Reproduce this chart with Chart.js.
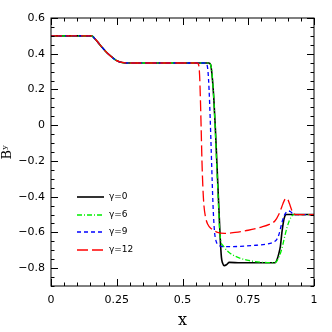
<!DOCTYPE html>
<html>
<head>
<meta charset="utf-8">
<script src="https://cdn.jsdelivr.net/npm/chart.js@4.4.1/dist/chart.umd.min.js"></script>
<style>
  html, body { margin: 0; padding: 0; background: #fff; }
  #wrap { width: 332px; height: 332px; }
</style>
</head>
<body>
<div id="wrap"><canvas id="byChart" width="332" height="332"></canvas></div>
<script>
// common part (0 .. 0.31) shared by every run
const commonX = [0, 0.155, 0.165, 0.178, 0.193, 0.21, 0.231, 0.248, 0.262, 0.28, 0.3];
const commonY = [0.5, 0.5, 0.487, 0.465, 0.438, 0.41, 0.382, 0.363, 0.354, 0.349, 0.348];

// gamma = 0
const g0X = [0.6, 0.607, 0.613, 0.619, 0.625, 0.631, 0.637, 0.643, 0.648, 0.652, 0.659, 0.668, 0.678, 0.72, 0.852, 0.86, 0.866, 0.872, 0.878, 0.884, 0.889, 0.895, 1];
const g0Y = [0.348, 0.34, 0.27, 0.15, -0.02, -0.22, -0.42, -0.62, -0.74, -0.77, -0.786, -0.78, -0.768, -0.77, -0.77, -0.75, -0.72, -0.68, -0.6, -0.54, -0.51, -0.5, -0.5];

// gamma = 6
const g6X = [0.6, 0.605, 0.61, 0.615, 0.62, 0.625, 0.63, 0.636, 0.641, 0.646, 0.655, 0.668, 0.682, 0.7, 0.72, 0.745, 0.77, 0.8, 0.848, 0.858, 0.866, 0.874, 0.882, 0.89, 0.898, 0.906, 0.914, 0.922, 1];
const g6Y = [0.348, 0.343, 0.32, 0.24, 0.12, -0.04, -0.22, -0.42, -0.58, -0.65, -0.675, -0.7, -0.718, -0.733, -0.745, -0.755, -0.762, -0.767, -0.77, -0.762, -0.74, -0.71, -0.665, -0.615, -0.57, -0.535, -0.512, -0.5, -0.5];

// gamma = 9
const g9X = [0.585, 0.592, 0.597, 0.601, 0.605, 0.609, 0.613, 0.617, 0.622, 0.628, 0.636, 0.648, 0.67, 0.72, 0.78, 0.82, 0.845, 0.858, 0.866, 0.873, 0.88, 0.887, 0.895, 0.903, 0.91, 0.918, 0.928, 1];
const g9Y = [0.348, 0.343, 0.3, 0.2, 0.05, -0.13, -0.32, -0.48, -0.6, -0.65, -0.67, -0.678, -0.68, -0.678, -0.672, -0.665, -0.655, -0.64, -0.615, -0.575, -0.535, -0.505, -0.487, -0.48, -0.483, -0.493, -0.5, -0.5];

// gamma = 12
const g12X = [0.555, 0.561, 0.565, 0.568, 0.571, 0.574, 0.577, 0.581, 0.587, 0.596, 0.61, 0.63, 0.66, 0.7, 0.75, 0.8, 0.83, 0.852, 0.866, 0.878, 0.886, 0.893, 0.9, 0.907, 0.914, 0.922, 0.93, 1];
const g12Y = [0.348, 0.34, 0.28, 0.15, -0.02, -0.2, -0.33, -0.44, -0.51, -0.555, -0.58, -0.598, -0.606, -0.6, -0.588, -0.57, -0.555, -0.535, -0.5, -0.455, -0.425, -0.41, -0.415, -0.44, -0.47, -0.492, -0.5, -0.5];

const seriesLabels = ['\u03b3=0', '\u03b3=6', '\u03b3=9', '\u03b3=12'];
const xTicks = [0, 0.25, 0.5, 0.75, 1];
const xTickLabels = ['0', '0.25', '0.5', '0.75', '1'];
const yTicks = [-0.8, -0.6, -0.4, -0.2, 0, 0.2, 0.4, 0.6];

function pts(xs, ys) {
    const all = commonX.map((x, i) => ({ x: x, y: commonY[i] }));
    xs.forEach((x, i) => all.push({ x: x, y: ys[i] }));
    return all;
}

// tick marks pointing inwards on all 4 sides + frame
const frameTicks = {
    id: 'frameTicks',
    afterDraw(chart) {
        const { ctx, chartArea: a, scales } = chart;
        const xs = scales.x, ys = scales.y;
        ctx.save();
        ctx.strokeStyle = '#000';
        ctx.lineWidth = 1;
        ctx.strokeRect(a.left, a.top, a.right - a.left, a.bottom - a.top);
        ctx.beginPath();
        for (let k = 0; k <= 20; k++) {
            const px = Math.round(xs.getPixelForValue(k * 0.05)) + 0.5;
            const len = k % 5 === 0 ? 7 : 3.5;
            ctx.moveTo(px, a.bottom); ctx.lineTo(px, a.bottom - len);
            ctx.moveTo(px, a.top); ctx.lineTo(px, a.top + len);
        }
        for (let k = -18; k <= 12; k++) {
            const py = Math.round(ys.getPixelForValue(k * 0.05)) + 0.5;
            const len = k % 4 === 0 ? 7 : 3.5;
            ctx.moveTo(a.left, py); ctx.lineTo(a.left + len, py);
            ctx.moveTo(a.right, py); ctx.lineTo(a.right - len, py);
        }
        ctx.stroke();
        ctx.restore();
    }
};

// legend drawn inside the plot, lower left
const innerLegend = {
    id: 'innerLegend',
    afterDraw(chart) {
        const ctx = chart.ctx;
        const rows = [197, 215, 232, 250];
        ctx.save();
        chart.data.datasets.forEach((ds, i) => {
            const y = rows[i];
            ctx.beginPath();
            ctx.strokeStyle = ds.borderColor;
            ctx.lineWidth = ds.borderWidth;
            ctx.setLineDash(ds.borderDash || []);
            ctx.moveTo(77, y);
            ctx.lineTo(104, y);
            ctx.stroke();
            ctx.setLineDash([]);
            ctx.fillStyle = '#000';
            ctx.font = '9px "DejaVu Sans"';
            ctx.textBaseline = 'middle';
            ctx.fillText(ds.label, 109, y);
        });
        ctx.restore();
    }
};

new Chart(document.getElementById('byChart'), {
    type: 'line',
    data: {
        datasets: [
            { label: seriesLabels[0], data: pts(g0X, g0Y), borderColor: '#000000', borderWidth: 1.6, order: 3 },
            { label: seriesLabels[1], data: pts(g6X, g6Y), borderColor: '#00ee00', borderWidth: 1.3, borderDash: [5, 2, 1, 2], order: 2 },
            { label: seriesLabels[2], data: pts(g9X, g9Y), borderColor: '#0000ff', borderWidth: 1.3, borderDash: [4, 3], order: 1 },
            { label: seriesLabels[3], data: pts(g12X, g12Y), borderColor: '#ff0000', borderWidth: 1.3, borderDash: [11, 4], order: 0 }
        ]
    },
    options: {
        responsive: false,
        animation: false,
        devicePixelRatio: 1,
        layout: { padding: { left: 0, top: 18, right: 18, bottom: 0 } },
        elements: {
            point: { radius: 0 },
            line: { fill: false, cubicInterpolationMode: 'monotone' }
        },
        plugins: { legend: { display: false }, tooltip: { enabled: false } },
        scales: {
            x: {
                type: 'linear', min: 0, max: 1,
                grid: { display: false, drawTicks: false },
                border: { display: false },
                afterBuildTicks: s => { s.ticks = xTicks.map(v => ({ value: v })); },
                afterFit: s => { s.height = 46; },
                ticks: {
                    padding: 8, color: '#000', maxRotation: 0,
                    font: { family: 'DejaVu Sans', size: 11 },
                    callback: v => xTickLabels[xTicks.indexOf(v)]
                },
                title: {
                    display: true, text: 'x', color: '#000',
                    font: { family: 'DejaVu Serif', size: 16 },
                    padding: { top: 2, bottom: 2 }
                }
            },
            y: {
                type: 'linear', min: -0.9, max: 0.6,
                grid: { display: false, drawTicks: false },
                border: { display: false },
                afterBuildTicks: s => { s.ticks = yTicks.map(v => ({ value: v })); },
                afterFit: s => { s.width = 51; },
                ticks: {
                    padding: 6, color: '#000',
                    font: { family: 'DejaVu Sans', size: 11 },
                    callback: v => {
                        const r = Math.round(v * 10) / 10;
                        if (r === 0) return '0';
                        return (r < 0 ? '\u2212' : '') + Math.abs(r).toFixed(1);
                    }
                },
                title: {
                    display: true, text: 'B\u02b8', color: '#000',
                    font: { family: 'DejaVu Serif', size: 13 },
                    padding: { top: 0, bottom: 0 }
                }
            }
        }
    },
    plugins: [frameTicks, innerLegend]
});
</script>
</body>
</html>
